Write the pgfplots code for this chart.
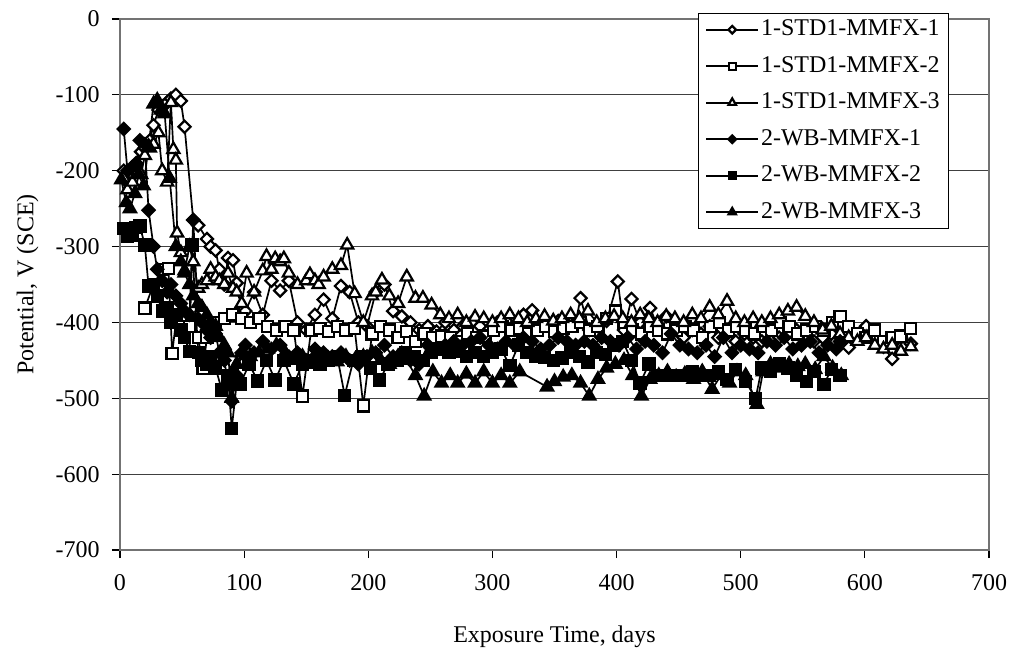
\documentclass[border=0pt]{standalone}
\usepackage{fontspec}
\setmainfont{Liberation Serif}
\usepackage{pgfplots}
\pgfplotsset{compat=1.18}
\begin{document}
\begin{tikzpicture}[font=\fontsize{12}{14.4}\selectfont]
\useasboundingbox (0,0) rectangle (506.5pt,327pt);
\begin{axis}[
  at={(60pt,52pt)}, anchor=south west,
  scale only axis, width=434.5pt, height=265.5pt,
  xmin=0, xmax=700, ymin=-700, ymax=0,
  xtick={0,100,...,700}, xticklabels={0,100,200,300,400,500,600,700},
  ytick={-700,-600,...,0}, yticklabels={-700,-600,-500,-400,-300,-200,-100,0},
  tick pos=left, tick align=outside, major tick length=4pt,
  tick style={black, line width=0.6pt},
  ymajorgrids, major grid style={black!75, line width=0.6pt},
  axis line style={draw=black!55, line width=0.9pt},
  xticklabel style={inner sep=0pt, anchor=north, yshift=-8pt},
  yticklabel style={inner sep=0pt, anchor=east, xshift=-6pt},
  xlabel={Exposure Time, days},
  ylabel={Potential, V (SCE)},
  xlabel style={at={(axis description cs:0.5,-0.1751)}, anchor=base},
  ylabel style={at={(axis description cs:-0.0998,0.5)}, anchor=base, rotate=0},
  legend style={at={(0.665,1.0113)}, anchor=north west, draw=black, line width=0.5pt,
    fill=white, inner xsep=3.5pt, inner ysep=2.6pt, row sep=7.25pt, column sep=0pt,
    nodes={inner xsep=1pt, inner ysep=0pt, text height=8.5pt, text depth=2.5pt},
    legend cell align=left},
  legend image code/.code={\draw[mark repeat=2,mark phase=2,#1, every mark/.append style={scale=0.62}] plot coordinates {(0pt,0pt) (13pt,0pt) (26pt,0pt)};},
  every axis plot/.append style={black, line width=0.85pt},
]
% 1-STD1-MMFX-1
\addplot[mark=square*, mark size=2.15pt, mark options={fill=white, line width=1.1pt, rotate=45}] coordinates {
(3,-200) (6,-215) (10,-205) (13,-190) (17,-175) (20,-170) (24,-160) (27,-140) (31,-120) (34,-115) (38,-110) (41,-105) (45,-100) (49,-108) (52,-142) (59,-265) (63,-272) (70,-290) (73,-300) (77,-305) (80,-330) (84,-350) (87,-315) (91,-318) (94,-348) (98,-380) (101,-385) (108,-360) (115,-390) (122,-345) (129,-358) (136,-345) (143,-400) (150,-410) (157,-390) (164,-370) (171,-395) (178,-352) (185,-360) (192,-400) (199,-405) (206,-360) (213,-350) (220,-385) (227,-392) (234,-400) (241,-410) (248,-405) (255,-412) (262,-400) (269,-410) (276,-405) (283,-400) (290,-405) (297,-410) (304,-400) (311,-398) (318,-405) (325,-390) (332,-384) (339,-400) (346,-405) (353,-398) (360,-402) (367,-400) (371,-368) (378,-410) (385,-405) (392,-398) (401,-346) (406,-410) (412,-369) (419,-400) (427,-381) (433,-405) (440,-392) (447,-410) (454,-420) (461,-410) (468,-415) (475,-405) (482,-420) (489,-415) (496,-425) (503,-415) (510,-420) (517,-425) (524,-410) (531,-420) (538,-415) (545,-410) (552,-420) (559,-425) (566,-420) (573,-415) (580,-420) (587,-433) (594,-418) (601,-405) (608,-420) (615,-432) (622,-448) (629,-420) (637,-428)
};
\addlegendentry{1-STD1-MMFX-1}
% 1-STD1-MMFX-2
\addplot[mark=square*, mark size=2.8pt, mark options={fill=white, line width=1.1pt}] coordinates {
(20,-381) (27,-350) (34,-330) (39,-329) (42,-441) (45,-400) (49,-395) (56,-405) (63,-420) (67,-461) (70,-420) (77,-400) (84,-395) (91,-390) (98,-395) (105,-400) (112,-395) (119,-405) (126,-410) (133,-405) (140,-410) (147,-497) (154,-410) (161,-408) (168,-412) (175,-405) (182,-410) (189,-408) (196,-510) (203,-415) (210,-405) (217,-410) (224,-420) (231,-412) (238,-425) (245,-415) (252,-420) (259,-418) (266,-420) (273,-425) (280,-415) (287,-420) (294,-418) (301,-410) (308,-405) (315,-410) (322,-408) (329,-415) (336,-410) (343,-405) (350,-412) (357,-408) (364,-405) (371,-400) (378,-410) (385,-405) (392,-395) (399,-385) (406,-400) (413,-410) (420,-415) (427,-405) (434,-410) (441,-415) (448,-410) (455,-405) (462,-410) (469,-420) (476,-405) (483,-400) (490,-410) (497,-405) (504,-410) (511,-415) (518,-405) (525,-410) (532,-400) (539,-405) (546,-415) (553,-410) (560,-405) (567,-410) (574,-400) (580,-392) (587,-405) (594,-415) (601,-420) (608,-410) (615,-425) (622,-420) (629,-418) (637,-408)
};
\addlegendentry{1-STD1-MMFX-2}
% 1-STD1-MMFX-3
\addplot[mark=triangle*, mark size=3.5pt, mark options={fill=white, line width=1.1pt}] coordinates {
(3,-210) (6,-225) (10,-215) (13,-200) (17,-205) (20,-180) (24,-170) (27,-165) (31,-150) (34,-200) (38,-215) (41,-110) (43,-172) (45,-186) (46,-282) (49,-308) (52,-332) (56,-300) (59,-320) (63,-355) (66,-350) (70,-345) (73,-330) (77,-340) (80,-345) (84,-350) (87,-335) (91,-355) (94,-360) (98,-375) (102,-335) (108,-360) (115,-332) (118,-313) (122,-330) (125,-316) (129,-320) (132,-316) (136,-335) (143,-350) (150,-345) (153,-337) (157,-345) (160,-350) (164,-340) (171,-330) (178,-325) (183,-298) (189,-362) (196,-400) (203,-365) (206,-360) (211,-344) (217,-365) (224,-375) (231,-340) (238,-368) (244,-368) (251,-377) (258,-390) (265,-395) (272,-390) (279,-400) (286,-393) (293,-395) (300,-400) (307,-395) (314,-390) (321,-395) (328,-400) (335,-395) (342,-392) (349,-398) (356,-395) (363,-390) (370,-395) (377,-385) (384,-400) (391,-395) (398,-392) (405,-395) (412,-400) (419,-390) (426,-395) (433,-400) (440,-392) (447,-395) (454,-400) (461,-390) (468,-395) (475,-380) (482,-390) (489,-372) (496,-395) (503,-400) (510,-395) (517,-400) (524,-395) (531,-390) (538,-385) (545,-380) (552,-392) (559,-400) (566,-410) (573,-405) (580,-415) (587,-420) (594,-425) (601,-420) (608,-430) (615,-435) (622,-430) (629,-438) (637,-432)
};
\addlegendentry{1-STD1-MMFX-3}
% 2-WB-MMFX-1
\addplot[mark=square*, mark size=2.15pt, mark options={fill=black, line width=1.1pt, rotate=45}] coordinates {
(3,-145) (6,-200) (10,-195) (13,-192) (16,-160) (20,-165) (23,-252) (27,-300) (30,-330) (34,-345) (38,-360) (41,-350) (45,-365) (49,-375) (52,-385) (56,-390) (59,-265) (63,-395) (66,-400) (70,-410) (73,-420) (77,-415) (80,-440) (84,-450) (87,-480) (90,-504) (94,-470) (98,-440) (101,-430) (108,-440) (115,-425) (122,-435) (129,-430) (136,-445) (143,-440) (150,-450) (157,-435) (164,-440) (171,-445) (178,-440) (185,-450) (192,-455) (199,-445) (206,-440) (213,-430) (220,-445) (227,-440) (234,-450) (241,-455) (248,-430) (255,-435) (262,-430) (269,-425) (276,-430) (283,-425) (290,-420) (297,-430) (304,-435) (311,-425) (318,-430) (325,-420) (332,-425) (339,-435) (346,-430) (353,-420) (360,-425) (367,-430) (374,-425) (381,-430) (388,-420) (395,-425) (402,-430) (409,-420) (416,-435) (423,-425) (430,-430) (437,-440) (444,-415) (451,-430) (458,-435) (465,-440) (472,-430) (479,-445) (486,-420) (493,-440) (500,-430) (507,-435) (514,-440) (521,-425) (528,-430) (535,-420) (542,-435) (549,-430) (556,-425) (563,-440) (570,-430) (577,-435) (580,-425)
};
\addlegendentry{2-WB-MMFX-1}
% 2-WB-MMFX-2
\addplot[mark=square*, mark size=2.8pt, mark options={fill=black, line width=1.1pt}] coordinates {
(3,-276) (6,-287) (10,-285) (13,-275) (16,-273) (20,-298) (23,-352) (27,-350) (30,-365) (34,-385) (38,-380) (41,-400) (45,-390) (49,-410) (52,-420) (56,-438) (58,-298) (63,-440) (66,-450) (70,-455) (73,-445) (77,-460) (82,-489) (87,-470) (90,-540) (94,-480) (97,-481) (104,-455) (111,-477) (118,-450) (125,-476) (132,-450) (140,-481) (147,-455) (154,-450) (161,-455) (168,-450) (175,-445) (181,-496) (188,-450) (195,-445) (202,-460) (209,-476) (216,-455) (223,-450) (230,-440) (237,-445) (244,-450) (251,-440) (258,-435) (265,-440) (272,-438) (279,-445) (286,-440) (293,-445) (300,-440) (307,-435) (314,-457) (321,-430) (328,-440) (335,-445) (342,-446) (349,-450) (356,-447) (363,-440) (370,-445) (377,-452) (384,-440) (391,-442) (398,-430) (405,-425) (412,-450) (419,-480) (426,-455) (433,-470) (440,-470) (447,-470) (454,-470) (461,-465) (468,-470) (475,-470) (482,-465) (489,-475) (496,-462) (504,-478) (512,-500) (517,-460) (524,-465) (531,-455) (538,-460) (545,-470) (553,-478) (559,-465) (567,-482) (573,-462) (580,-470)
};
\addlegendentry{2-WB-MMFX-2}
% 2-WB-MMFX-3
\addplot[mark=triangle*, mark size=3.5pt, mark options={fill=black, line width=1.1pt}] coordinates {
(1,-212) (5,-242) (8,-250) (12,-230) (15,-205) (19,-220) (23,-168) (27,-112) (30,-107) (33,-120) (36,-125) (40,-210) (45,-300) (49,-320) (52,-335) (56,-350) (59,-365) (63,-375) (66,-380) (70,-390) (73,-400) (77,-405) (80,-420) (84,-430) (87,-440) (90,-500) (94,-455) (98,-440) (105,-445) (112,-440) (119,-435) (126,-430) (133,-440) (140,-450) (147,-445) (154,-455) (161,-450) (168,-448) (175,-452) (182,-445) (189,-450) (196,-445) (203,-440) (210,-450) (217,-455) (224,-445) (231,-450) (238,-470) (245,-497) (252,-465) (259,-480) (266,-470) (272,-480) (279,-468) (286,-480) (293,-465) (300,-480) (307,-470) (314,-480) (322,-465) (344,-485) (350,-478) (357,-472) (364,-470) (371,-480) (378,-497) (385,-475) (392,-460) (399,-455) (406,-450) (413,-470) (420,-497) (427,-475) (434,-470) (441,-465) (448,-472) (455,-468) (462,-475) (469,-465) (477,-488) (484,-470) (491,-480) (497,-465) (504,-470) (513,-508) (518,-465) (524,-455) (532,-460) (539,-455) (546,-458) (552,-455) (560,-462) (567,-445) (574,-460) (581,-470)
};
\addlegendentry{2-WB-MMFX-3}
\end{axis}
\end{tikzpicture}
\end{document}
